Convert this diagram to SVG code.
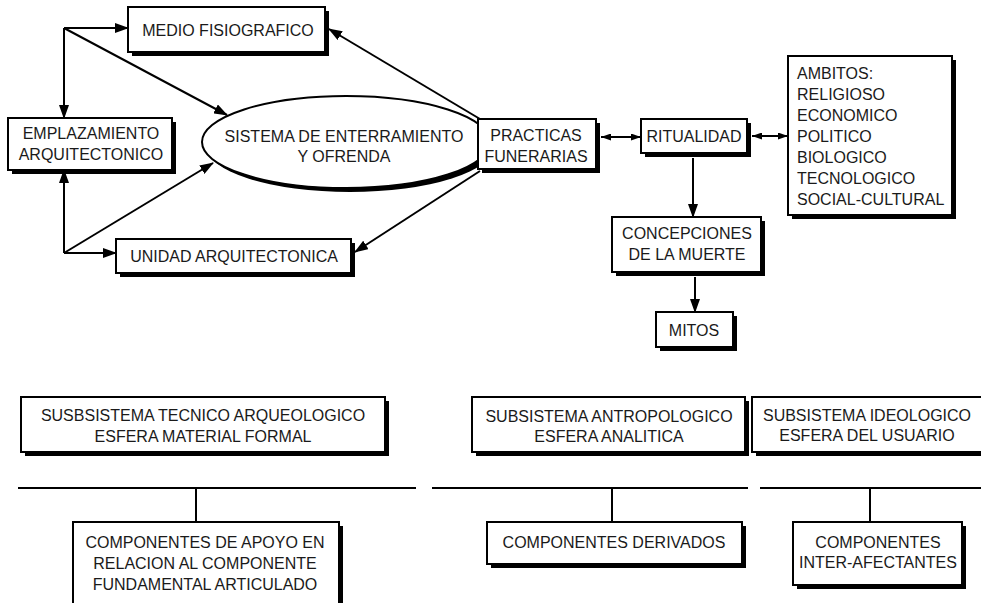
<svg xmlns="http://www.w3.org/2000/svg" width="981" height="603" viewBox="0 0 981 603">
<defs>
<style>
.box{fill:#fff;stroke:#000;stroke-width:2}
.sh{fill:#000}
.t{font-family:"Liberation Sans",Arial,sans-serif;font-size:16px;fill:#1a1a1a;text-anchor:middle}
.tl{font-family:"Liberation Sans",Arial,sans-serif;font-size:16px;fill:#1a1a1a;text-anchor:start}
.c{fill:none;stroke:#000;stroke-width:2}
</style>
<marker id="ah" markerUnits="userSpaceOnUse" markerWidth="14" markerHeight="10" refX="13" refY="5" orient="auto-start-reverse" viewBox="0 0 14 10">
<path d="M0,0 L14,5 L0,10 Z" fill="#000"/>
</marker>
<marker id="as" markerUnits="userSpaceOnUse" markerWidth="10" markerHeight="7" refX="10" refY="3.5" orient="auto-start-reverse" viewBox="0 0 10 7">
<path d="M0,0 L10,3.5 L0,7 Z" fill="#000"/>
</marker>
</defs>
<rect width="981" height="603" fill="#fff"/>

<g id="sistema">
<ellipse cx="350" cy="146" rx="144" ry="46" fill="#000"/>
<ellipse cx="346" cy="142" rx="144" ry="46" class="box"/>
<text class="t" x="344" y="142">SISTEMA DE ENTERRAMIENTO</text>
<text class="t" x="344" y="162">Y OFRENDA</text>
</g>

<g id="connectors">
<line class="c" x1="64" y1="28" x2="64" y2="253"/>
<line class="c" x1="64" y1="60" x2="64" y2="118" marker-end="url(#ah)"/>
<line class="c" x1="64" y1="220" x2="64" y2="170" marker-end="url(#ah)"/>
<line class="c" x1="64" y1="28" x2="128" y2="28" marker-end="url(#ah)"/>
<line class="c" x1="64" y1="28" x2="227" y2="115" marker-end="url(#ah)"/>
<line class="c" x1="64" y1="253" x2="116" y2="253" marker-end="url(#ah)"/>
<line class="c" x1="64" y1="253" x2="213" y2="163" marker-end="url(#ah)"/>
<line class="c" x1="480" y1="119" x2="329" y2="29" marker-end="url(#ah)"/>
<line class="c" x1="480" y1="171" x2="355" y2="252" marker-end="url(#ah)"/>
<line class="c" x1="601" y1="137" x2="641" y2="137" marker-start="url(#as)" marker-end="url(#as)"/>
<line class="c" x1="752" y1="136" x2="788" y2="136" marker-start="url(#as)" marker-end="url(#as)"/>
<line class="c" x1="693" y1="158" x2="693" y2="217" marker-end="url(#ah)"/>
<line class="c" x1="695" y1="277" x2="695" y2="312" marker-end="url(#ah)"/>
<line class="c" x1="18" y1="488" x2="416" y2="488"/>
<line class="c" x1="432" y1="488" x2="748" y2="488"/>
<line class="c" x1="760" y1="488" x2="981" y2="488"/>
<line class="c" x1="196" y1="488" x2="196" y2="522"/>
<line class="c" x1="612" y1="488" x2="612" y2="522"/>
<line class="c" x1="870" y1="488" x2="870" y2="522"/>
</g>

<g id="medio">
<rect class="sh" x="132" y="11" width="197" height="45"/>
<rect class="box" x="128" y="7" width="197" height="45"/>
<text class="t" x="228" y="36">MEDIO FISIOGRAFICO</text>
</g>

<g id="emplazamiento">
<rect class="sh" x="12" y="122" width="164" height="52"/>
<rect class="box" x="8" y="118" width="164" height="52"/>
<text class="t" x="91" y="139">EMPLAZAMIENTO</text>
<text class="t" x="91" y="160">ARQUITECTONICO</text>
</g>

<g id="unidad">
<rect class="sh" x="120" y="243" width="235" height="34"/>
<rect class="box" x="116" y="239" width="235" height="34"/>
<text class="t" x="234" y="262">UNIDAD ARQUITECTONICA</text>
</g>

<g id="practicas">
<rect class="sh" x="482" y="123" width="118" height="50"/>
<rect class="box" x="478" y="119" width="118" height="50"/>
<text class="t" x="536" y="141">PRACTICAS</text>
<text class="t" x="536" y="162">FUNERARIAS</text>
</g>

<g id="ritualidad">
<rect class="sh" x="645" y="123" width="106" height="34"/>
<rect class="box" x="641" y="119" width="106" height="34"/>
<text class="t" x="694" y="142">RITUALIDAD</text>
</g>

<g id="ambitos">
<rect class="sh" x="792" y="60" width="164" height="159"/>
<rect class="box" x="788" y="56" width="164" height="159"/>
<text class="tl" x="797" y="79">AMBITOS:</text>
<text class="tl" x="797" y="100">RELIGIOSO</text>
<text class="tl" x="797" y="121">ECONOMICO</text>
<text class="tl" x="797" y="142">POLITICO</text>
<text class="tl" x="797" y="163">BIOLOGICO</text>
<text class="tl" x="797" y="184">TECNOLOGICO</text>
<text class="tl" x="797" y="205">SOCIAL-CULTURAL</text>
</g>

<g id="concepciones">
<rect class="sh" x="616" y="221" width="149" height="55"/>
<rect class="box" x="612" y="217" width="149" height="55"/>
<text class="t" x="687" y="239">CONCEPCIONES</text>
<text class="t" x="687" y="260">DE LA MUERTE</text>
</g>

<g id="mitos">
<rect class="sh" x="660" y="316" width="77" height="35"/>
<rect class="box" x="656" y="312" width="77" height="35"/>
<text class="t" x="694" y="336">MITOS</text>
</g>

<g id="tecnico">
<rect class="sh" x="25" y="401" width="364" height="55"/>
<rect class="box" x="21" y="397" width="364" height="55"/>
<text class="t" x="203" y="421">SUSBSISTEMA TECNICO ARQUEOLOGICO</text>
<text class="t" x="203" y="442">ESFERA MATERIAL FORMAL</text>
</g>

<g id="antropologico">
<rect class="sh" x="476" y="401" width="273" height="55"/>
<rect class="box" x="472" y="397" width="273" height="55"/>
<text class="t" x="609" y="422">SUBSISTEMA ANTROPOLOGICO</text>
<text class="t" x="609" y="442">ESFERA ANALITICA</text>
</g>

<g id="ideologico">
<rect class="sh" x="756" y="401" width="240" height="55"/>
<rect class="box" x="752" y="397" width="240" height="55"/>
<text class="t" x="867" y="421">SUBSISTEMA IDEOLOGICO</text>
<text class="t" x="867" y="441">ESFERA DEL USUARIO</text>
</g>

<g id="apoyo">
<rect class="sh" x="77" y="526" width="266" height="90"/>
<rect class="box" x="73" y="522" width="266" height="90"/>
<text class="t" x="205" y="548">COMPONENTES DE APOYO EN</text>
<text class="t" x="205" y="569">RELACION AL COMPONENTE</text>
<text class="t" x="205" y="590">FUNDAMENTAL ARTICULADO</text>
</g>

<g id="derivados">
<rect class="sh" x="491" y="526" width="255" height="42"/>
<rect class="box" x="487" y="522" width="255" height="42"/>
<text class="t" x="614" y="548">COMPONENTES DERIVADOS</text>
</g>

<g id="interafectantes">
<rect class="sh" x="797" y="526" width="169" height="63"/>
<rect class="box" x="793" y="522" width="169" height="63"/>
<text class="t" x="878" y="548">COMPONENTES</text>
<text class="t" x="878" y="568">INTER-AFECTANTES</text>
</g>
</svg>
